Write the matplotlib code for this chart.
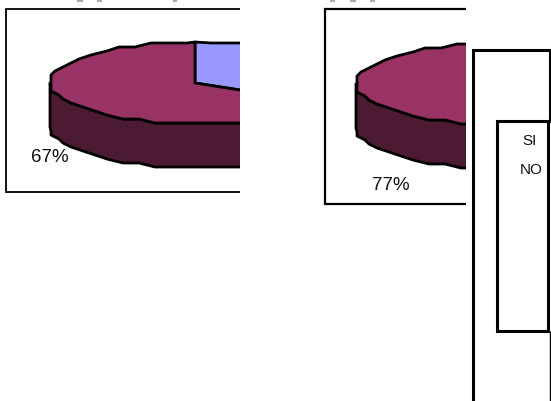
import numpy as np
import matplotlib
matplotlib.use("Agg")
import matplotlib.pyplot as plt
from matplotlib.patches import Polygon, Rectangle

plt.rcParams['font.family'] = ['Liberation Sans', 'DejaVu Sans']

pie_labels = ["SI", "NO"]
left_values = [33, 67]
right_values = [23, 77]
left_text = "67%"
right_text = "77%"

blue = "#9999ff"
top_col = "#993366"
side_col = "#4d1a33"

W, H = 551, 401
RX, RY, DEPTH = 145, 41, 44
LW = 2.0

fig = plt.figure(figsize=(W / 100, H / 100), dpi=100)
ax = fig.add_axes([0, 0, 1, 1])
ax.set_xlim(0, W)
ax.set_ylim(H, 0)
ax.axis("off")


def arc(cx, cy, a0, a1, step=7):
    # angles clockwise from the top, offsets snapped to a coarse grid for the rough outline
    # same angle grid for every arc, so the side and the top share their edge
    grid = np.arange(0, 360, step)
    grid = grid[(grid > a0) & (grid < a1)]
    t = np.radians(np.concatenate([[a0], grid, [a1]]))
    off = np.column_stack([RX * np.sin(t), -RY * np.cos(t)])
    off[1:-1] = np.round(off[1:-1] / 4) * 4
    return off + [cx, cy]


def pie(values, cx, cy, frame, clip_right):
    clip = Rectangle((frame[0], frame[1]), clip_right - frame[0], frame[2] - frame[1],
                     transform=ax.transData)
    # side of the cylinder, front half only
    front = arc(cx, cy, 90, 270)
    side = np.vstack([front, (front + [0, DEPTH])[::-1]])
    p = ax.add_patch(Polygon(side, fc=side_col, ec="black", lw=LW, joinstyle="round"))
    p.set_clip_path(clip)
    # top faces, first slice starts at 12 o'clock
    start = 0
    for val, col in zip(values, [blue, top_col]):
        end = start + val * 3.6
        pts = np.vstack([[cx, cy], arc(cx, cy, start, end)])
        p = ax.add_patch(Polygon(pts, fc=col, ec="black", lw=LW, joinstyle="round"))
        p.set_clip_path(clip)
        start = end


def open_frame(x0, y0, x1, y1, lw):
    ax.plot([x1, x0, x0, x1], [y0, y0, y1, y1], color="black", lw=lw,
            solid_joinstyle="miter", solid_capstyle="butt")


open_frame(6, 8.5, 240, 191.5, 1.3)
pie(left_values, 195, 83, (6, 8, 191), 240)
ax.text(50, 158, left_text, fontsize=13.5, ha="center", va="center", color="#111111")

open_frame(325, 8.5, 466, 203.5, 1.6)
pie(right_values, 501, 84, (325, 8, 203), 466)
ax.text(391, 186, right_text, fontsize=13.5, ha="center", va="center", color="#111111")

# legend boxes
ax.plot([473, 473], [401, 50], color="black", lw=2.2, solid_capstyle="butt")
ax.plot([473, 550, 550], [50, 50, 121], color="black", lw=2.2, solid_joinstyle="miter")
ax.plot([550, 550], [331, 401], color="black", lw=1, solid_capstyle="butt")
ax.add_patch(Rectangle((497, 121), 51, 210, fc="white", ec="black", lw=2.2, joinstyle="miter"))
ax.text(530, 141, pie_labels[0], fontsize=11, ha="center", va="center", color="#111111")
ax.text(531.5, 170, pie_labels[1], fontsize=11, ha="center", va="center", color="#111111")

# bits of the cropped titles along the top edge
for x0, x1 in [(77, 83), (97, 102), (173, 177), (330, 335), (350, 356), (370, 375)]:
    ax.plot([x0, x1], [0.5, 0.5], color="#999999", lw=1.2, solid_capstyle="butt")

fig.savefig("out.png", dpi=100)
